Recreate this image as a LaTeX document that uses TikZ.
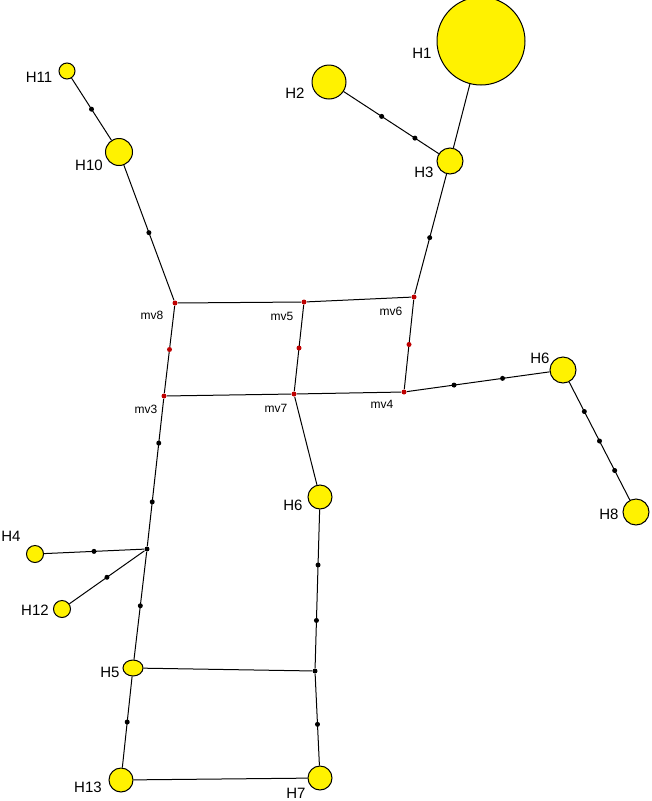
\documentclass[tikz,border=0pt]{standalone}
\usepackage{fontspec}
\setmainfont{Liberation Sans}
\usetikzlibrary{shapes.geometric}
\tikzset{every picture/.style={line width=1pt}}
\tikzset{
  hap/.style={circle,draw,fill=yellow,inner sep=0pt,minimum size=#1},
  mv/.style={circle,fill=red!75!black,inner sep=0pt,minimum size=5pt},
  dot/.style={circle,fill=black,inner sep=0pt,minimum size=5pt},
  lab/.style={font=\fontsize{15}{15}\selectfont,inner sep=0.75pt},
  mvlab/.style={font=\fontsize{12}{12}\selectfont,inner sep=0.75pt}
}
\begin{document}
\begin{tikzpicture}[x=1pt,y=1pt,yscale=-1,xscale=1]
\useasboundingbox (0,0) rectangle (652,801);

% haplotypes
\node[hap=88pt] (H1) at (481,41) {};
\node[hap=34pt] (H2) at (329,82) {};
\node[hap=26pt] (H3) at (450,161) {};
\node[hap=16pt] (H11) at (67,71) {};
\node[hap=27pt] (H10) at (119,152) {};
\node[hap=26pt] (H6r) at (563,370) {};
\node[hap=26pt] (H8) at (636,512) {};
\node[hap=24pt] (H6m) at (320,497) {};
\node[hap=17pt] (H4) at (35,554) {};
\node[hap=17pt] (H12) at (62,609) {};
\node[draw,fill=yellow,ellipse,inner sep=0pt,minimum width=20pt,minimum height=16pt] (H5) at (133,668) {};
\node[hap=24pt] (H13) at (121,780) {};
\node[hap=24pt] (H7) at (320,778) {};

% median vectors
\node[mv] (mv8) at (175,303) {};
\node[mv] (mv5) at (304,302) {};
\node[mv] (mv6) at (414,297) {};
\node[mv] (mv3) at (164,396) {};
\node[mv] (mv7) at (294,394) {};
\node[mv] (mv4) at (404,392) {};
\node[dot] (j1) at (147,549) {};
\node[dot] (j2) at (315,671) {};

% edges
\draw (H1) -- (H3);
\draw (H11) -- node[dot]{} (H10);
\draw (H2) -- node[dot,pos=0.4]{} node[dot,pos=0.75]{} (H3);
\draw (H3) -- node[dot,pos=0.53]{} (mv6);
\draw (H10) -- node[dot,pos=0.5]{} (mv8);
\draw (mv8) -- (mv5) -- (mv6);
\draw (mv3) -- (mv7) -- (mv4);
\draw (mv8) -- node[mv]{} (mv3);
\draw (mv5) -- node[mv]{} (mv7);
\draw (mv6) -- node[mv]{} (mv4);
\draw (mv4) -- node[dot,pos=0.33]{} node[dot,pos=0.67]{} (H6r);
\draw (H6r) -- node[dot,pos=0.25]{} node[dot,pos=0.5]{} node[dot,pos=0.75]{} (H8);
\draw (mv7) -- (H6m);
\draw (mv3) -- node[dot,pos=0.3]{} node[dot,pos=0.7]{} (j1);
\draw (H4) -- node[dot,pos=0.5]{} (j1);
\draw (H12) -- node[dot,pos=0.5]{} (j1);
\draw (j1) -- node[dot,pos=0.5]{} (H5);
\draw (H6m) -- node[dot,pos=0.35]{} node[dot,pos=0.7]{} (j2);
\draw (H5) -- (j2);
\draw (H5) -- node[dot,pos=0.5]{} (H13);
\draw (j2) -- node[dot,pos=0.55]{} (H7);
\draw (H13) -- (H7);

% labels
\node[lab] at (422,53) {H1};
\node[lab] at (295,93) {H2};
\node[lab] at (424,172) {H3};
\node[lab] at (39,77) {H11};
\node[lab] at (89,165) {H10};
\node[lab] at (540,358) {H6};
\node[lab] at (609,514) {H8};
\node[lab] at (293,505) {H6};
\node[lab] at (11,536) {H4};
\node[lab] at (35,610) {H12};
\node[lab] at (110,672) {H5};
\node[lab] at (88,787) {H13};
\node[lab] at (296,793) {H7};
\node[mvlab] at (152,315) {mv8};
\node[mvlab] at (282,316) {mv5};
\node[mvlab] at (391,311) {mv6};
\node[mvlab] at (146,409) {mv3};
\node[mvlab] at (276,408) {mv7};
\node[mvlab] at (382,404) {mv4};
\end{tikzpicture}
\end{document}
